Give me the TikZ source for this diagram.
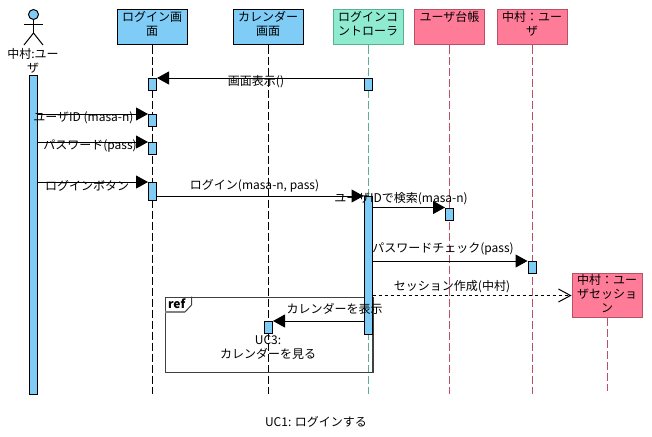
\documentclass[tikz,border=0pt]{standalone}
\usepackage{fontspec}
\setmainfont{Noto Sans CJK JP}
\usetikzlibrary{arrows.meta,positioning}

\begin{document}
\begin{tikzpicture}[
  x=1pt, y=-1pt, line width=1pt,
  every node/.style={font=\fontsize{12}{14}\selectfont, inner sep=0pt, align=center},
  bluebox/.style={draw, fill=screen, minimum width=70pt, minimum height=35pt, anchor=north},
  tealbox/.style={bluebox, draw=ctrlline, fill=ctrl},
  pinkbox/.style={bluebox, draw=entline, fill=ent},
  head/.style={anchor=north, yshift=-1pt},
  bar/.style={draw, fill=screen, minimum width=8pt, anchor=north},
  life/.style={dash pattern=on 8pt off 3pt},
  msg/.style={-{Triangle[length=12pt,width=13pt]}},
  reply/.style={dash pattern=on 3pt off 3pt, -{Straight Barb[length=12pt,width=13pt]}},
]
  \definecolor{screen}{HTML}{7FCCF7}
  \definecolor{ctrl}{HTML}{8FEBD0}
  \definecolor{ctrlline}{HTML}{5BAF95}
  \definecolor{ent}{HTML}{FF7C99}
  \definecolor{entline}{HTML}{B85068}
  \useasboundingbox (0,0) rectangle (652,436);

  % actor
  \node[circle, draw, fill=screen, minimum size=10pt] (face) at (33.5,14.5) {};
  \coordinate (hip) at (33.5,33);
  \coordinate (armL) at (24,25);
  \coordinate (armR) at (43,25);
  \coordinate (legL) at (24,45);
  \coordinate (legR) at (43,45);
  \draw (face.south) -- (hip);
  \draw (armL) -- (armR);
  \draw (legL) -- (hip) -- (legR);
  \node (actor) at (33,60.5) {中村:ユー\\ザ};

  % lifeline heads
  \node[bluebox, label={[head]north:{ログイン画\\面}}] (login) at (152,9.5) {};
  \node[bluebox, label={[head]north:{カレンダー\\画面}}] (cal) at (268,9.5) {};
  \node[tealbox, label={[head]north:{ログインコ\\ントローラ}}] (ctl) at (368,9.5) {};
  \node[pinkbox, label={[head]north:{ユーザ台帳}}] (book) at (449.5,9.5) {};
  \node[pinkbox, label={[head]north:{中村：ユー\\ザ}}] (usr) at (532,9.5) {};
  \node[pinkbox, minimum height=44pt, label={[head]north:{中村：ユー\\ザセッショ\\ン}}] (sess) at (607,273) {};

  \coordinate (loginEnd) at (152.5,394);
  \coordinate (calEnd) at (268,394);
  \coordinate (ctlEnd) at (368,394);
  \coordinate (bookEnd) at (449.5,394);
  \coordinate (usrEnd) at (532,394);
  \coordinate (sessEnd) at (607,391);
  \draw[life] (login.south -| loginEnd) -- (loginEnd);
  \draw[life] (cal) -- (calEnd);
  \draw[life, ctrlline] (ctl) -- (ctlEnd);
  \draw[life, entline] (book) -- (bookEnd);
  \draw[life, entline] (usr) -- (usrEnd);
  \draw[life, entline] (sess) -- (sessEnd);

  % ref frame
  \node[draw=black!75, line width=1.5pt, minimum width=207.5pt, minimum height=75pt, anchor=north west] (frame) at (164.5,296.5) {};
  \node[anchor=west, font=\fontsize{12}{14}\selectfont\bfseries] (reftag) at (167.5,304) {ref};
  \coordinate (tabA) at (191.5,296.5);
  \coordinate (tabB) at (191.5,305);
  \coordinate (tabC) at (185,312);
  \coordinate (tabD) at (164.5,312);
  \draw[black!75] (tabA) -- (tabB) -- (tabC);
  \draw[black!50, line width=1.5pt] (tabC) -- (tabD);

  % activation bars
  \node[bar, minimum height=319pt] (userA) at (33.5,75) {};
  \node[bar, minimum height=12pt] (loginA) at (152.5,78) {};
  \node[bar, minimum height=12pt] (loginB) at (152.5,114) {};
  \node[bar, minimum height=12pt] (loginC) at (152.5,142) {};
  \node[bar, minimum height=18pt] (loginD) at (152.5,182) {};
  \node[bar, minimum height=12pt] (calA) at (268.5,321) {};
  \node[bar, minimum height=12pt] (ctlA) at (368,78) {};
  \node[bar, minimum height=138pt] (ctlB) at (368,196) {};
  \node[bar, minimum height=12pt] (bookA) at (449.5,207.5) {};
  \node[bar, minimum height=12pt] (usrA) at (532,261) {};

  % messages
  \draw[msg] (ctlA.north west) -- (loginA.north east);
  \draw[msg] (userA.east |- loginB.north) -- (loginB.north west);
  \draw[msg] (userA.east |- loginC.north) -- (loginC.north west);
  \draw[msg] (userA.east |- loginD.north) -- (loginD.north west);
  \draw[msg] (loginD.east |- ctlB.north) -- (ctlB.north west);
  \draw[msg] (ctlB.east |- bookA.north) -- (bookA.north west);
  \draw[msg] (ctlB.east |- usrA.north) -- (usrA.north west);
  \draw[reply] (ctlB.east |- sess.west) -- (sess.west);
  \draw[msg] (ctlB.west |- calA.north) -- (calA.north east);

  \node (mA) at (256,82) {画面表示()};
  \node (mB) at (83.5,118) {ユーザID (masa-n)};
  \node (mC) at (90,146) {パスワード(pass)};
  \node (mD) at (87,186) {ログインボタン};
  \node (mE) at (254.5,186) {ログイン(masa-n, pass)};
  \node (mF) at (401,199) {ユーザIDで検索(masa-n)};
  \node (mG) at (443,249) {パスワードチェック(pass)};
  \node (mH) at (452,287) {セッション作成(中村)};
  \node (mI) at (334.5,309) {カレンダーを表示};
  \node (uc3) at (268,348) {UC3:\\カレンダーを見る};
  \node (title) at (316,422) {UC1: ログインする};
\end{tikzpicture}
\end{document}
